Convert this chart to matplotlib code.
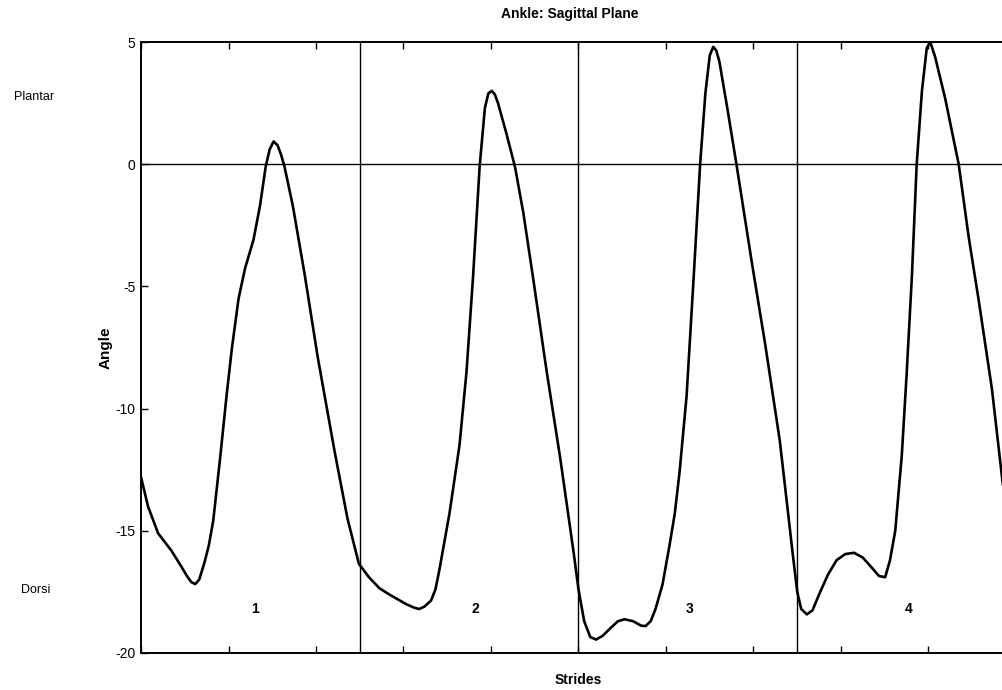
import matplotlib
matplotlib.use("Agg")
import matplotlib.pyplot as plt

# ankle angle, x = sample index (50 samples per stride)
frame = [0, 1.6, 3.9, 6.9, 9, 10.5, 11.5, 12.4, 13.3, 14.5, 15.5, 16.5, 17.3, 18.1, 19.6, 20.8,
         22.3, 23.8, 25.7, 27.2, 28.5, 29.4, 30.3, 31.2, 32.0, 32.8, 34.7, 37.4, 40.4, 44.2,
         47.2, 49.8,
         52.1, 54.5, 56.7, 60.6, 62.5, 63.6, 64.8, 66.3, 67.3, 68.2, 70.5, 72.8, 74.4, 75.9,
         77.4, 78.6, 79.4, 80.2, 80.9, 81.6, 83.5, 85.5, 87.4, 89.7, 92.7, 95.8, 98.9, 100,
         101.3,
         102.7, 104, 105.5, 107.5, 109, 110.5, 112.5, 114.3, 115.3, 116.5, 117.6, 119.2,
         120.8, 122, 123.1, 124.7, 126.3, 127.8, 129, 130, 130.8, 131.5, 132.2, 134.1,
         136.1, 139.6, 142.7, 146, 147.6, 149, 150,
         150.9, 152.2, 153.5, 155, 157, 159, 161, 163, 165, 167, 168.7, 170.1, 171.2,
         172.4, 173.9, 175, 176.2, 177.3, 178.5, 179.6, 180.4, 181.5, 183.8, 186.9, 189.2,
         191.5, 194.5, 196.8, 197.6]
angle = [-12.8, -14.0, -15.1, -15.8, -16.4, -16.85, -17.1, -17.18, -17.0, -16.3, -15.6, -14.6, -13.3, -12.0, -9.4, -7.5,
         -5.5, -4.25, -3.1, -1.7, -0.1, 0.6, 0.93, 0.78, 0.4, -0.1, -1.7, -4.5, -7.9, -11.7,
         -14.5, -16.35,
         -16.9, -17.35, -17.6, -18.0, -18.15, -18.2, -18.1, -17.85, -17.4, -16.6, -14.3, -11.5, -8.5, -4.6,
         -0.1, 2.3, 2.9, 3.0, 2.85, 2.5, 1.27, -0.12, -2.0, -4.75, -8.45, -12.0, -15.9, -17.4,
         -18.7,
         -19.35, -19.45, -19.3, -18.95, -18.7, -18.62, -18.7, -18.88, -18.9, -18.7, -18.2, -17.2,
         -15.6, -14.3, -12.6, -9.5, -4.7, 0.0, 2.9, 4.45, 4.8, 4.65, 4.2, 2.2,
         0.0, -4.0, -7.4, -11.3, -13.8, -16.0, -17.5,
         -18.2, -18.42, -18.25, -17.6, -16.8, -16.2, -15.95, -15.9, -16.1, -16.5, -16.85, -16.9, -16.2,
         -15.0, -11.9, -8.6, -4.6, 0.0, 3.0, 4.75, 5.0, 4.4, 2.7, 0.0, -3.0,
         -5.6, -9.2, -12.8, -14.0]

stride_bounds = [50, 100, 150]
stride_names = ["1", "2", "3", "4"]
stride_label_x = [26, 76.5, 125.5, 175.5]
yticks = [5, 0, -5, -10, -15, -20]

W, H = 1003, 690
fig = plt.figure(figsize=(W / 100, H / 100), dpi=100)
plt.rcParams["font.family"] = ["Liberation Sans", "DejaVu Sans"]

# axes run a bit past the right edge of the picture
ax = fig.add_axes([141 / W, 37 / H, 875 / W, 611 / H])
ax.plot(frame, angle, color="black", lw=1.9, solid_joinstyle="round", solid_capstyle="round")
ax.axhline(0, color="black", lw=1.0)
for b in stride_bounds:
    ax.axvline(b, color="black", lw=1.0)
for xl, name in zip(stride_label_x, stride_names):
    ax.text(xl, -18.2, name, ha="center", va="center", fontsize=10, fontweight="bold")

ax.set_xlim(0, 200)
ax.set_ylim(-20, 5)
ax.set_xticks(range(0, 201, 20))
ax.set_xticklabels([])
ax.set_yticks(yticks)
ax.set_yticklabels([str(t) for t in yticks], fontsize=10)
ax.tick_params(axis="x", direction="in", top=True, length=5, width=1.0)
ax.tick_params(axis="y", direction="in", length=5, width=1.0, pad=4)
for s in ax.spines.values():
    s.set_linewidth(1.4)

fig.text(570 / W, 1 - 14 / H, "Ankle: Sagittal Plane", ha="center", va="center",
         fontsize=10, fontweight="bold")
ax.set_xlabel("Strides", fontsize=10, fontweight="bold", labelpad=11)
ax.set_ylabel("Angle", fontsize=11, fontweight="bold", labelpad=2)

fig.text(34 / W, 1 - 97 / H, "Plantar", ha="center", va="center", fontsize=9)
fig.text(36 / W, 1 - 590 / H, "Dorsi", ha="center", va="center", fontsize=9)

fig.savefig("out.png", dpi=100)
